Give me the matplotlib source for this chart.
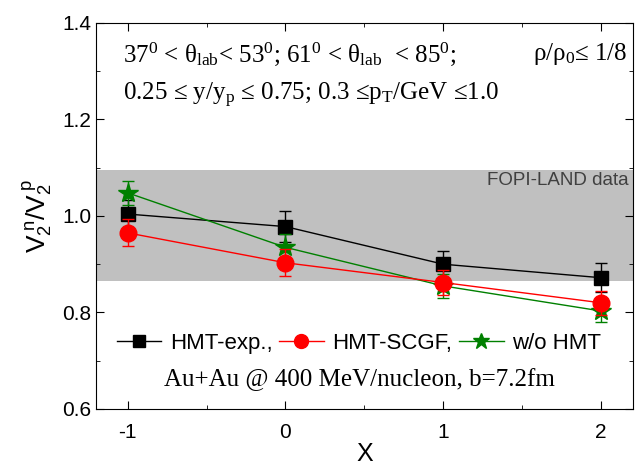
import matplotlib
matplotlib.use('Agg')
import matplotlib.pyplot as plt
from matplotlib.lines import Line2D
import numpy as np

plt.rcParams['font.family'] = ['Liberation Sans', 'DejaVu Sans']
plt.rcParams['mathtext.fontset'] = 'custom'
plt.rcParams['mathtext.rm'] = 'Liberation Serif'
plt.rcParams['mathtext.it'] = 'Liberation Serif:italic'
plt.rcParams['mathtext.sf'] = 'Liberation Sans'
plt.rcParams['axes.unicode_minus'] = False

# data
x = [-1, 0, 1, 2]
hmt_exp = [1.004, 0.978, 0.900, 0.872]
hmt_exp_err = [0.030, 0.032, 0.028, 0.030]
hmt_scgf = [0.965, 0.903, 0.862, 0.820]
hmt_scgf_err = [0.028, 0.028, 0.025, 0.025]
wo_hmt = [1.048, 0.935, 0.855, 0.803]
wo_hmt_err = [0.025, 0.028, 0.025, 0.022]
band_lo, band_hi = 0.865, 1.095

fig = plt.figure(figsize=(6.36, 4.69), dpi=100)
ax = fig.add_axes([0.151, 0.128, 0.844, 0.823])

ax.axhspan(band_lo, band_hi, color='#c0c0c0', lw=0, zorder=0)
ax.text(2.175, 1.073, 'FOPI-LAND data', ha='right', va='center',
        color='#404040', fontsize=13.5)

ax.errorbar(x, hmt_exp, yerr=hmt_exp_err, color='black', marker='s', ms=10,
            lw=1, capsize=4, elinewidth=1, capthick=1, zorder=3)
ax.errorbar(x, wo_hmt, yerr=wo_hmt_err, color='green', marker='*', ms=15,
            lw=1, capsize=4, elinewidth=1, capthick=1, zorder=4)
ax.errorbar(x, hmt_scgf, yerr=hmt_scgf_err, color='red', marker='o', ms=12,
            lw=1, capsize=4, elinewidth=1, capthick=1, zorder=5)

handles = [Line2D([], [], color='black', marker='s', ms=8, lw=1),
           Line2D([], [], color='red', marker='o', ms=10, lw=1),
           Line2D([], [], color='green', marker='*', ms=12, lw=1)]
labels = ['HMT-exp.,', 'HMT-SCGF,', 'w/o HMT']
ax.legend(handles, labels, ncol=3, frameon=False,
          loc='center', bbox_to_anchor=(0.49, 0.17), fontsize=16,
          handlelength=2.0, handletextpad=0.4, columnspacing=0.3,
          borderpad=0, borderaxespad=0)

ax.set_xlim(-1.2, 2.2)
ax.set_ylim(0.6, 1.4)
ax.set_xticks([-1, 0, 1, 2])
ax.set_xticks(np.arange(-1, 2.01, 0.5), minor=True)
ax.set_yticks(np.arange(0.6, 1.41, 0.2))
ax.set_yticks(np.arange(0.6, 1.41, 0.1), minor=True)
ax.yaxis.set_major_formatter(matplotlib.ticker.FormatStrFormatter('%.1f'))
ax.tick_params(which='both', direction='in', top=True, right=True, labelsize=15)
ax.tick_params(which='major', length=6)
ax.tick_params(which='minor', length=3)
ax.tick_params(axis='x', pad=10)

ax.set_xlabel('X', fontsize=18, labelpad=0)
ax.set_ylabel(r'V$_{\mathsf{2}}^{\mathsf{\ n}}$/V$_{\mathsf{2}}^{\mathsf{\ p}}$', fontsize=19, labelpad=6)

serif = {'family': 'Liberation Serif', 'fontsize': 18}
ax.text(0.05, 0.92, r'37$^0$ < θ$_{\rm lab}$< 53$^0$; 61$^0$ < θ$_{\rm lab}$  < 85$^0$;',
        transform=ax.transAxes, va='center', **serif)
ax.text(0.99, 0.92, r'ρ/ρ$_0$≤ 1/8', transform=ax.transAxes, ha='right',
        va='center', **serif)
ax.text(0.05, 0.812, r'0.25 ≤ y/y$_{\rm p}$ ≤ 0.75; 0.3 ≤p$_{\rm T}$/GeV ≤1.0',
        transform=ax.transAxes, va='center', **serif)
ax.text(0.49, 0.075, 'Au+Au @ 400 MeV/nucleon, b=7.2fm',
        transform=ax.transAxes, ha='center', va='center', **serif)

fig.savefig('out.png', dpi=100)
